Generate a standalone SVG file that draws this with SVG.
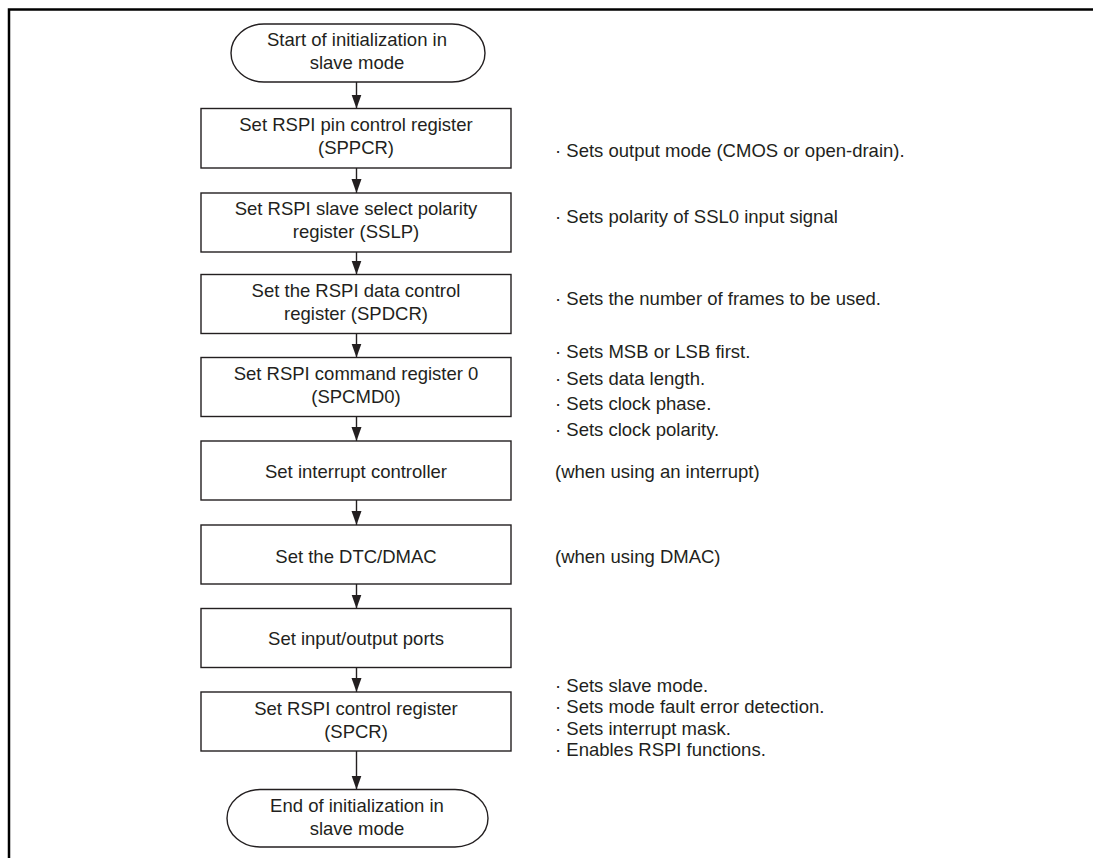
<svg xmlns="http://www.w3.org/2000/svg" width="1094" height="858" viewBox="0 0 1094 858">
<style>
.frame{fill:none;stroke:#000;stroke-width:2.5}
.box{fill:#fff;stroke:#231f20;stroke-width:1.4}
.t{font-family:"Liberation Sans",Arial,Helvetica,sans-serif;font-size:18.5px;fill:#231f20}
.c{text-anchor:middle}
.conn line{stroke:#231f20;stroke-width:1.4}
</style>
<defs>
<marker id="arr" markerUnits="userSpaceOnUse" markerWidth="14" markerHeight="11" refX="14" refY="5.5" orient="auto">
<path d="M0,0.5 L14,5.5 L0,10.5 Z" fill="#231f20"/>
</marker>
</defs>
<rect width="1094" height="858" fill="#fff"/>
<path class="frame" d="M9,858 V9.5 H1093"/>

<g id="connectors" class="conn">
<line x1="356.5" y1="82" x2="356.5" y2="108.5" marker-end="url(#arr)"/>
<line x1="356.5" y1="168" x2="356.5" y2="193" marker-end="url(#arr)"/>
<line x1="356.5" y1="252" x2="356.5" y2="274.5" marker-end="url(#arr)"/>
<line x1="356.5" y1="333.5" x2="356.5" y2="357.5" marker-end="url(#arr)"/>
<line x1="356.5" y1="416.5" x2="356.5" y2="441" marker-end="url(#arr)"/>
<line x1="356.5" y1="500" x2="356.5" y2="525" marker-end="url(#arr)"/>
<line x1="356.5" y1="584" x2="356.5" y2="608.5" marker-end="url(#arr)"/>
<line x1="356.5" y1="667.5" x2="356.5" y2="692" marker-end="url(#arr)"/>
<line x1="356.5" y1="751" x2="356.5" y2="789.5" marker-end="url(#arr)"/>
</g>

<g id="start">
<path class="box" d="M264,24 H452 A33,29 0 0 1 452,82 H264 A33,29 0 0 1 264,24 Z"/>
<text class="t c" x="357" y="46">Start of initialization in</text>
<text class="t c" x="357" y="69">slave mode</text>
</g>

<g id="sppcr">
<rect class="box" x="201" y="108.5" width="310" height="59.5"/>
<text class="t c" x="356" y="130.5">Set RSPI pin control register</text>
<text class="t c" x="356" y="153.5">(SPPCR)</text>
</g>

<g id="sslp">
<rect class="box" x="201" y="193" width="310" height="59"/>
<text class="t c" x="356" y="215">Set RSPI slave select polarity</text>
<text class="t c" x="356" y="238">register (SSLP)</text>
</g>

<g id="spdcr">
<rect class="box" x="201" y="274.5" width="310" height="59"/>
<text class="t c" x="356" y="296.5">Set the RSPI data control</text>
<text class="t c" x="356" y="319.5">register (SPDCR)</text>
</g>

<g id="spcmd0">
<rect class="box" x="201" y="357.5" width="310" height="59"/>
<text class="t c" x="356" y="379.5">Set RSPI command register 0</text>
<text class="t c" x="356" y="402.5">(SPCMD0)</text>
</g>

<g id="intc">
<rect class="box" x="201" y="441" width="310" height="59"/>
<text class="t c" x="356" y="478">Set interrupt controller</text>
</g>

<g id="dtc">
<rect class="box" x="201" y="525" width="310" height="59"/>
<text class="t c" x="356" y="562.5">Set the DTC/DMAC</text>
</g>

<g id="ports">
<rect class="box" x="201" y="608.5" width="310" height="59"/>
<text class="t c" x="356" y="645">Set input/output ports</text>
</g>

<g id="spcr">
<rect class="box" x="201" y="692" width="310" height="59"/>
<text class="t c" x="356" y="715">Set RSPI control register</text>
<text class="t c" x="356" y="738">(SPCR)</text>
</g>

<g id="end">
<path class="box" d="M260,789.5 H455 A33,28.75 0 0 1 455,847 H260 A33,28.75 0 0 1 260,789.5 Z"/>
<text class="t c" x="357" y="812">End of initialization in</text>
<text class="t c" x="357" y="834.5">slave mode</text>
</g>

<g id="notes">
<text class="t" x="555" y="157">· Sets output mode (CMOS or open-drain).</text>
<text class="t" x="555" y="223">· Sets polarity of SSL0 input signal</text>
<text class="t" x="555" y="304.5">· Sets the number of frames to be used.</text>
<text class="t" x="555" y="358">· Sets MSB or LSB first.</text>
<text class="t" x="555" y="384.5">· Sets data length.</text>
<text class="t" x="555" y="410">· Sets clock phase.</text>
<text class="t" x="555" y="436">· Sets clock polarity.</text>
<text class="t" x="555" y="478">(when using an interrupt)</text>
<text class="t" x="555" y="562.5">(when using DMAC)</text>
<text class="t" x="555" y="691.5">· Sets slave mode.</text>
<text class="t" x="555" y="713">· Sets mode fault error detection.</text>
<text class="t" x="555" y="734.5">· Sets interrupt mask.</text>
<text class="t" x="555" y="756">· Enables RSPI functions.</text>
</g>
</svg>
